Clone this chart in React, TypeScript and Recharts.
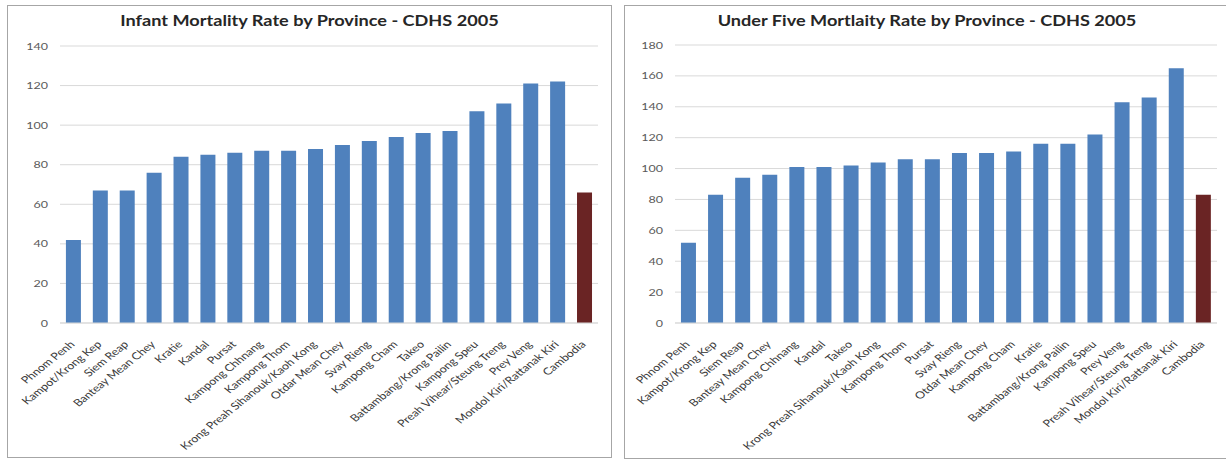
import { BarChart, Bar, XAxis, YAxis, CartesianGrid, Cell } from 'recharts';

const infantProvinces = [
  'Phnom Penh', 'Kampot/Krong Kep', 'Siem Reap', 'Banteay Mean Chey', 'Kratie',
  'Kandal', 'Pursat', 'Kampong Chhnang', 'Kampong Thom', 'Krong Preah Sihanouk/Kaoh Kong',
  'Otdar Mean Chey', 'Svay Rieng', 'Kampong Cham', 'Takeo', 'Battambang/Krong Pailin',
  'Kampong Speu', 'Preah Vihear/Steung Treng', 'Prey Veng', 'Mondol Kiri/Rattanak Kiri', 'Cambodia',
];
const infantRates = [42, 67, 67, 76, 84, 85, 86, 87, 87, 88, 90, 92, 94, 96, 97, 107, 111, 121, 122, 66];
const infantTicks = [0, 20, 40, 60, 80, 100, 120, 140];

const under5Provinces = [
  'Phnom Penh', 'Kampot/Krong Kep', 'Siem Reap', 'Banteay Mean Chey', 'Kampong Chhnang',
  'Kandal', 'Takeo', 'Krong Preah Sihanouk/Kaoh Kong', 'Kampong Thom', 'Pursat',
  'Svay Rieng', 'Otdar Mean Chey', 'Kampong Cham', 'Kratie', 'Battambang/Krong Pailin',
  'Kampong Speu', 'Prey Veng', 'Preah Vihear/Steung Treng', 'Mondol Kiri/Rattanak Kiri', 'Cambodia',
];
const under5Rates = [52, 83, 94, 96, 101, 101, 102, 104, 106, 106, 110, 110, 111, 116, 116, 122, 143, 146, 165, 83];
const under5Ticks = [0, 20, 40, 60, 80, 100, 120, 140, 160, 180];

const BLUE = '#4f81bd';
const RED = '#6a2424';
const FONT = 'Lato, "Open Sans", sans-serif';
// the original picture is stretched sideways, so text is widened a bit
const STRETCH = 1.25;

const RotTick = (props: any) => {
  const { x, y, payload } = props;
  return (
    <g transform={`translate(${x + 2},${y + 20}) scale(${STRETCH},1)`}>
      <text textAnchor="end" transform="rotate(-45)" fontSize={10} fill="#3a3a3a" fontFamily={FONT}>
        {payload.value}
      </text>
    </g>
  );
};

const ValueTick = (props: any) => {
  const { x, y, payload } = props;
  return (
    <g transform={`translate(${x},${y}) scale(${STRETCH},1)`}>
      <text textAnchor="end" dy="0.35em" fontSize={10} fill="#595959" fontFamily={FONT}>
        {payload.value}
      </text>
    </g>
  );
};

function Panel(props: {
  left: number; width: number; height: number; title: string;
  names: string[]; values: number[]; ticks: number[];
  margin: { top: number; right: number; bottom: number; left: number }; yWidth: number;
}) {
  const { left, width, height, title, names, values, ticks, margin, yWidth } = props;
  const rows = names.map((n, i) => ({ name: n, value: values[i] }));
  return (
    <div
      style={{
        position: 'absolute', left, top: 5, width, height, boxSizing: 'border-box',
        border: '1px solid #a6a6a6', background: '#fff',
      }}
    >
      <div
        style={{
          position: 'absolute', left: 0, top: 6, width: '100%', textAlign: 'center',
          fontFamily: FONT, fontWeight: 'bold', fontSize: 14.5, color: '#262626',
          transform: `scaleX(${STRETCH})`, transformOrigin: 'center',
        }}
      >
        {title}
      </div>
      <BarChart
        width={width - 2}
        height={height - 2}
        data={rows}
        margin={margin}
        barCategoryGap="22%"
        style={{ position: 'absolute', left: 0, top: 0 }}
      >
        <CartesianGrid vertical={false} stroke="#d9d9d9" />
        <XAxis
          dataKey="name"
          interval={0}
          height={30}
          tick={<RotTick />}
          tickLine={false}
          tickSize={0}
          axisLine={{ stroke: '#d9d9d9' }}
        />
        <YAxis
          width={yWidth}
          domain={[0, ticks[ticks.length - 1]]}
          ticks={ticks}
          interval={0}
          axisLine={false}
          tickLine={false}
          tickSize={0}
          tickMargin={12}
          tick={<ValueTick />}
        />
        <Bar dataKey="value" isAnimationActive={false}>
          {rows.map((r, i) => (
            <Cell key={i} fill={r.name === 'Cambodia' ? RED : BLUE} />
          ))}
        </Bar>
      </BarChart>
    </div>
  );
}

export default function App() {
  return (
    <div style={{ position: 'absolute', left: 0, top: 0, width: 1226, height: 461, background: '#fff', overflow: 'hidden' }}>
      <Panel
        left={7}
        width={605}
        height={453}
        title="Infant Mortality Rate by Province - CDHS 2005"
        names={infantProvinces}
        values={infantRates}
        ticks={infantTicks}
        margin={{ top: 40, right: 13, bottom: 104, left: 0 }}
        yWidth={52}
      />
      <Panel
        left={624}
        width={606}
        height={454}
        title="Under Five Mortlaity Rate by Province - CDHS 2005"
        names={under5Provinces}
        values={under5Rates}
        ticks={under5Ticks}
        margin={{ top: 39, right: 12, bottom: 105, left: 0 }}
        yWidth={50}
      />
    </div>
  );
}
